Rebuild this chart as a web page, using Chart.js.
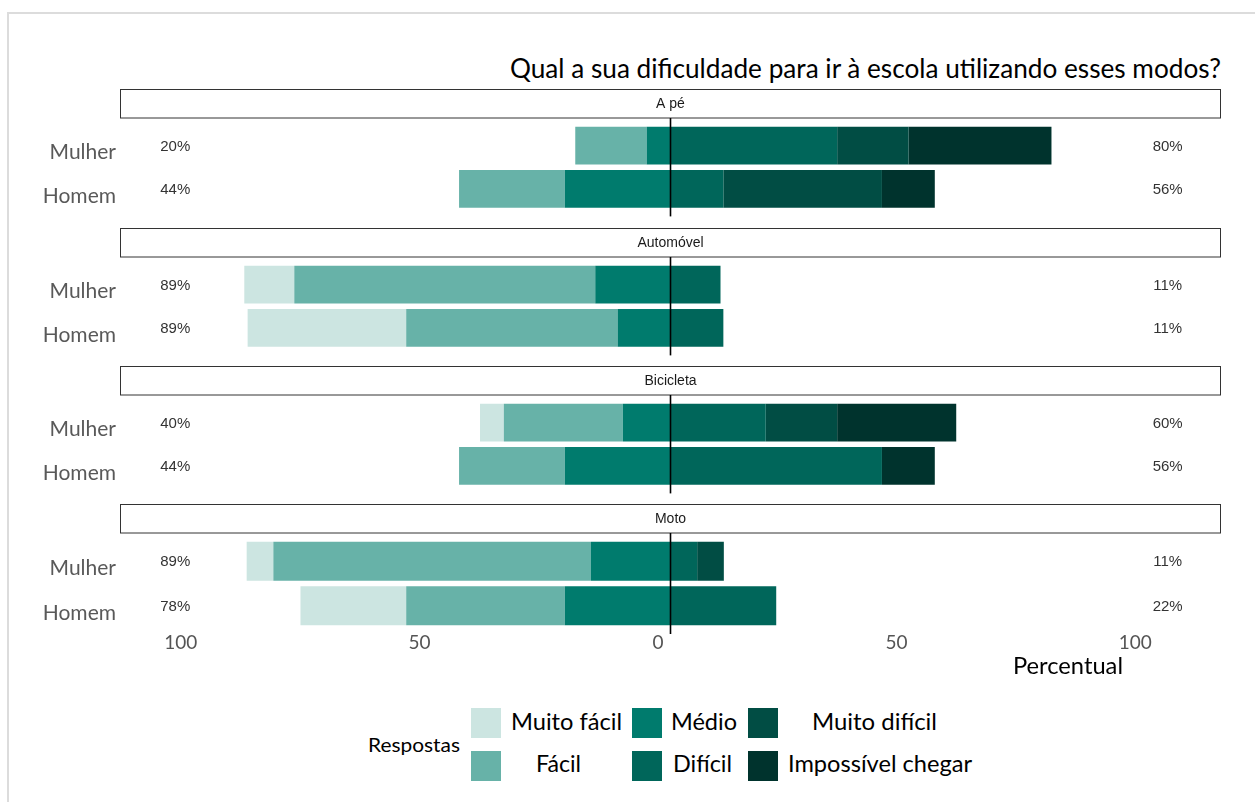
<!DOCTYPE html>
<html><head><meta charset="utf-8">
<script src="https://cdn.jsdelivr.net/npm/chart.js@4"></script>
<style>
html,body{margin:0;padding:0;background:#fff;}
#root{position:relative;width:1255px;height:802px;overflow:hidden;background:#fff;font-family:Lato,sans-serif;}
#frame{position:absolute;left:7px;top:12px;width:1400px;height:1000px;border:2px solid #dcdcdc;box-sizing:border-box;}
.t{position:absolute;white-space:nowrap;line-height:1;transform-origin:0 0;}
.sw{position:absolute;width:30px;height:30px;}
canvas{position:absolute;left:0;}
</style></head><body><div id="root"><div id="frame"></div></div>
<script>
// ---- data ----
const facets = ['A pé', 'Automóvel', 'Bicicleta', 'Moto'];
const genders = ['Mulher', 'Homem'];
const responses = ['Muito fácil', 'Fácil', 'Médio', 'Difícil', 'Muito difícil', 'Impossível chegar'];
const colors = ['#cce5e1', '#67b2a8', '#007b6d', '#00665a', '#014d44', '#00332d'];
// values per facet: [Mulher, Homem] in %
const muitoFacil   = [[0, 0],    [10.5, 33.3], [5, 0],     [5.6, 22.2]];
const facil        = [[15, 22.2],[63.2, 44.4], [25, 22.2], [66.7, 33.3]];
const medio        = [[5, 22.2], [15.8, 11.1], [10, 22.2], [16.7, 22.2]];
const dificil      = [[35, 11.1],[10.5, 11.1], [20, 44.4], [5.6, 22.2]];
const muitoDificil = [[15, 33.3],[0, 0],       [15, 0],    [5.6, 0]];
const impossivel   = [[30, 11.1],[0, 0],       [25, 11.1], [0, 0]];
const leftLabels  = [['20%', '44%'], ['89%', '89%'], ['40%', '44%'], ['89%', '78%']];
const rightLabels = [['80%', '56%'], ['11%', '11%'], ['60%', '56%'], ['11%', '22%']];
const xTicks = [-100, -50, 0, 50, 100];
const title = 'Qual a sua dificuldade para ir à escola utilizando esses modos?';
const xTitle = 'Percentual';
const legendTitle = 'Respostas';

// ---- layout ----
const root = document.getElementById('root');
const series = [muitoFacil, facil, medio, dificil, muitoDificil, impossivel];
const stackOrder = [2, 1, 0, 3, 4, 5]; // negatives nearest zero first
const negative = [true, true, true, false, false, false];
const stripTops = [89, 228, 366, 504];

function addText(str, left, cy, width, fs, color) {
  const d = document.createElement('div');
  d.className = 't'; d.textContent = str;
  d.style.fontSize = fs + 'px'; d.style.color = color;
  d.style.left = left + 'px'; d.style.top = (cy - 0.527 * fs) + 'px';
  root.appendChild(d);
  if (width) { const w = d.getBoundingClientRect().width; d.style.transform = 'scaleX(' + (width / w) + ')'; }
  return d;
}

function makePlugin(k) {
  return {
    id: 'facet' + k,
    afterDatasetsDraw(chart) {
      const ctx = chart.ctx, a = chart.chartArea;
      const xs = chart.scales.x, ys = chart.scales.y;
      ctx.save();
      // strip
      ctx.fillStyle = '#fff';
      ctx.fillRect(a.left, 0, a.right - a.left, 29);
      ctx.strokeStyle = '#333'; ctx.lineWidth = 1;
      ctx.strokeRect(a.left + 0.5, 0.5, a.right - a.left - 1, 28.5);
      ctx.fillStyle = '#1a1a1a';
      ctx.font = '14px "Liberation Sans", Arial, sans-serif';
      ctx.textAlign = 'center'; ctx.textBaseline = 'middle';
      ctx.fillText(facets[k], (a.left + a.right) / 2, 15);
      // zero line
      const x0 = xs.getPixelForValue(0);
      ctx.strokeStyle = '#000'; ctx.lineWidth = 1.6;
      ctx.beginPath(); ctx.moveTo(x0, 29); ctx.lineTo(x0, a.bottom + 6); ctx.stroke();
      // percent labels
      ctx.fillStyle = '#333';
      ctx.font = '15px "Liberation Sans", Arial, sans-serif';
      genders.forEach((g, i) => {
        const y = ys.getPixelForValue(i) + 1;
        ctx.fillText(leftLabels[k][i], xs.getPixelForValue(-104), y);
        ctx.fillText(rightLabels[k][i], xs.getPixelForValue(104.4), y);
      });
      ctx.restore();
    }
  };
}

facets.forEach((f, k) => {
  const last = k === facets.length - 1;
  const H = last ? 154 : 138;
  const cv = document.createElement('canvas');
  cv.width = 1255; cv.height = H;
  cv.style.top = stripTops[k] + 'px';
  cv.style.width = '1255px'; cv.style.height = H + 'px';
  root.appendChild(cv);
  const datasets = stackOrder.map(j => ({
    label: responses[j],
    data: series[j][k].map(v => negative[j] ? -v : v),
    backgroundColor: colors[j],
    borderWidth: 0,
    barPercentage: 0.876,
    categoryPercentage: 1,
    xAxisID: 'x', yAxisID: 'y'
  }));
  const scales = {
    x: { type: 'linear', stacked: true, min: -115.6, max: 115.6, display: false },
    y: {
      type: 'category', stacked: true,
      grid: { display: false, drawTicks: false }, border: { display: false },
      ticks: { font: { family: 'Lato', size: 21 }, color: '#595959', padding: 4, labelOffset: 7 },
      afterFit(s) { s.width = 120; }
    }
  };
  if (last) {
    scales.xt = {
      type: 'linear', position: 'bottom', min: -112.74, max: 117.98,
      grid: { display: false, drawTicks: false }, border: { display: false },
      ticks: { font: { family: 'Lato', size: 19 }, color: '#555', padding: 3, autoSkip: false, maxRotation: 0,
               callback: v => String(Math.abs(v)) },
      afterBuildTicks(s) { s.ticks = xTicks.map(v => ({ value: v })); },
      afterFit(s) { s.height = 30; }
    };
  }
  new Chart(cv, {
    type: 'bar',
    data: { labels: genders, datasets },
    options: {
      indexAxis: 'y', responsive: false, animation: false, devicePixelRatio: 1,
      layout: { padding: { left: 0, right: 34, top: 35, bottom: last ? 0 : 14 } },
      plugins: { legend: { display: false }, tooltip: { enabled: false } },
      scales
    },
    plugins: [makePlugin(k)]
  });
});

// title & axis title
addText(title, 510, 68, 711, 27, '#000');
addText(xTitle, 1013, 666, 110, 24, '#000');

// legend
addText(legendTitle, 368, 745, 92, 20, '#000');
const swX = [471, 632, 748], swY = [708, 751];
const legText = [[511, 111], [536, 45], [671, 66], [673, 59], [812, 125], [788, 184]];
const legCy = [722, 764];
responses.forEach((r, i) => {
  const c = Math.floor(i / 2), row = i % 2;
  const s = document.createElement('div');
  s.className = 'sw'; s.style.left = swX[c] + 'px'; s.style.top = swY[row] + 'px';
  s.style.background = colors[i];
  root.appendChild(s);
  addText(r, legText[i][0], legCy[row], legText[i][1], 24, '#000');
});
</script></body></html>
